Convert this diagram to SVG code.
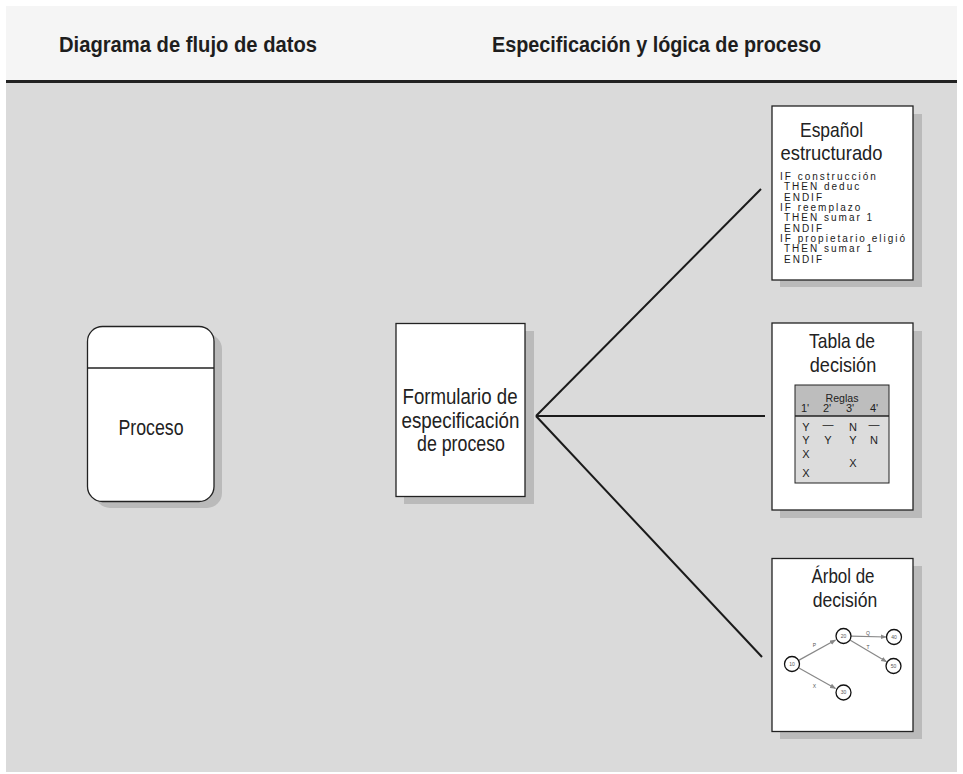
<svg xmlns="http://www.w3.org/2000/svg" width="963" height="774" viewBox="0 0 963 774">
<defs>
<style>
.hdr{font-family:"Liberation Sans",Arial,sans-serif;font-weight:bold;font-size:22px;fill:#1e1e1e}
.lbl{font-family:"Liberation Sans",Arial,sans-serif;font-size:22px;fill:#222;text-anchor:middle}
.ttl{font-family:"Liberation Sans",Arial,sans-serif;font-size:21px;fill:#222;text-anchor:middle}
.code{font-family:"Liberation Sans",Arial,sans-serif;font-size:10px;letter-spacing:2px;fill:#1a1a1a}
.tbl{font-family:"Liberation Sans",Arial,sans-serif;font-size:11px;fill:#222;text-anchor:middle}
.tiny{font-family:"Liberation Sans",Arial,sans-serif;font-size:5px;fill:#555;text-anchor:middle}
.box{fill:#fff;stroke:#222;stroke-width:1.3}
.shadow{fill:#bababa}
.fan{stroke:#1a1a1a;stroke-width:2;fill:none}
.tarrow{stroke:#888;stroke-width:1.2;fill:none;marker-end:url(#ah)}
.tnode{fill:#fff;stroke:#111;stroke-width:1.3}
</style>
<marker id="ah" viewBox="0 0 10 10" refX="9" refY="5" markerWidth="5" markerHeight="5" orient="auto" markerUnits="strokeWidth">
<path d="M0,1 L10,5 L0,9 Z" fill="#888"/>
</marker>
</defs>
<rect x="0" y="0" width="963" height="774" fill="#fff"/>
<rect x="6" y="6" width="951" height="75" fill="#f5f5f5"/>
<rect x="6" y="83" width="951" height="689" fill="#dadada"/>
<rect x="6" y="80" width="951" height="3" fill="#222"/>
<g id="header">
<text class="hdr" x="59" y="52" textLength="258" lengthAdjust="spacingAndGlyphs">Diagrama de flujo de datos</text>
<text class="hdr" x="492" y="52" textLength="329" lengthAdjust="spacingAndGlyphs">Especificación y lógica de proceso</text>
</g>
<g id="connectors">
<line class="fan" x1="536" y1="416" x2="761" y2="189"/>
<line class="fan" x1="536" y1="416" x2="765" y2="416"/>
<line class="fan" x1="536" y1="416" x2="762" y2="657"/>
</g>
<g id="proceso">
<rect class="shadow" x="95" y="334" width="127" height="174" rx="15"/>
<rect class="box" x="87.5" y="326.5" width="126.5" height="175" rx="15"/>
<line x1="87.5" y1="368" x2="214" y2="368" stroke="#222" stroke-width="1.3"/>
<text class="lbl" x="151" y="435" textLength="65" lengthAdjust="spacingAndGlyphs">Proceso</text>
</g>
<g id="formulario">
<rect class="shadow" x="404" y="331" width="130" height="173"/>
<rect class="box" x="396" y="323.5" width="129" height="173"/>
<text class="lbl" x="460" y="404" textLength="115" lengthAdjust="spacingAndGlyphs">Formulario de</text>
<text class="lbl" x="460.5" y="427.5" textLength="118" lengthAdjust="spacingAndGlyphs">especificación</text>
<text class="lbl" x="461" y="451" textLength="88" lengthAdjust="spacingAndGlyphs">de proceso</text>
</g>
<g id="espanol-estructurado">
<rect class="shadow" x="780" y="114" width="142" height="173"/>
<rect class="box" x="772" y="106" width="141" height="174"/>
<text class="ttl" x="831.5" y="136.5" textLength="63" lengthAdjust="spacingAndGlyphs">Español</text>
<text class="ttl" x="831.5" y="160" textLength="102" lengthAdjust="spacingAndGlyphs">estructurado</text>
<text class="code" x="780" y="180">IF construcción</text>
<text class="code" x="784" y="190.3">THEN deduc</text>
<text class="code" x="784" y="200.6">ENDIF</text>
<text class="code" x="780" y="211">IF reemplazo</text>
<text class="code" x="784" y="221.3">THEN sumar 1</text>
<text class="code" x="784" y="231.6">ENDIF</text>
<text class="code" x="780" y="242">IF propietario eligió</text>
<text class="code" x="784" y="252.3">THEN sumar 1</text>
<text class="code" x="784" y="262.6">ENDIF</text>
</g>
<g id="tabla-decision">
<rect class="shadow" x="780" y="331" width="142" height="187"/>
<rect class="box" x="772" y="323" width="141" height="187"/>
<text class="ttl" x="842" y="348" textLength="66" lengthAdjust="spacingAndGlyphs">Tabla de</text>
<text class="ttl" x="843" y="371.5" textLength="66.5" lengthAdjust="spacingAndGlyphs">decisión</text>
<rect x="795" y="385" width="94" height="31" fill="#bdbdbd"/>
<rect x="795" y="416" width="94" height="67" fill="#dcdcdc"/>
<rect x="795" y="385" width="94" height="98" fill="none" stroke="#222" stroke-width="1"/>
<line x1="795" y1="416" x2="889" y2="416" stroke="#222" stroke-width="1.5"/>
<text class="tbl" x="842" y="401.5" font-size="12.5" textLength="33" lengthAdjust="spacingAndGlyphs">Reglas</text>
<text class="tbl" x="805" y="412">1'</text>
<text class="tbl" x="827" y="412">2'</text>
<text class="tbl" x="850" y="412">3'</text>
<text class="tbl" x="874" y="412">4'</text>
<text class="tbl" x="806" y="431">Y</text>
<text class="tbl" x="828" y="431" dy="-3">—</text>
<text class="tbl" x="853" y="431">N</text>
<text class="tbl" x="874" y="431" dy="-3">—</text>
<text class="tbl" x="806" y="443.5">Y</text>
<text class="tbl" x="828" y="443.5">Y</text>
<text class="tbl" x="853" y="443.5">Y</text>
<text class="tbl" x="874" y="443.5">N</text>
<text class="tbl" x="806" y="457.5">X</text>
<text class="tbl" x="853" y="467">X</text>
<text class="tbl" x="806" y="477">X</text>
</g>
<g id="arbol-decision">
<rect class="shadow" x="780" y="566" width="142" height="173"/>
<rect class="box" x="772" y="558.5" width="141" height="173"/>
<text class="ttl" x="843" y="582.5" textLength="63" lengthAdjust="spacingAndGlyphs">Árbol de</text>
<text class="ttl" x="845" y="606.5" textLength="64.5" lengthAdjust="spacingAndGlyphs">decisión</text>
<g id="arbol-connectors">
<line class="tarrow" x1="798.6" y1="660.4" x2="835.5" y2="640"/>
<line class="tarrow" x1="798.5" y1="667.7" x2="835.5" y2="688.4"/>
<line class="tarrow" x1="851" y1="636.2" x2="886" y2="637"/>
<line class="tarrow" x1="849.5" y1="639.8" x2="886.5" y2="661.8"/>
<text class="tiny" x="814.5" y="646.5">P</text>
<text class="tiny" x="814.5" y="687.5">X</text>
<text class="tiny" x="868" y="634.5">Q</text>
<text class="tiny" x="868" y="648.5">T</text>
</g>
<g id="tree-nodes">
<circle class="tnode" cx="792" cy="664" r="7.5"/>
<text class="tiny" x="792" y="665.8" fill="#333">10</text>
<circle class="tnode" cx="843.5" cy="636" r="7.5"/>
<text class="tiny" x="843.5" y="637.8" fill="#333">20</text>
<circle class="tnode" cx="843.5" cy="692.5" r="7.5"/>
<text class="tiny" x="843.5" y="694.3" fill="#333">30</text>
<circle class="tnode" cx="894" cy="637" r="7.5"/>
<text class="tiny" x="894" y="638.8" fill="#333">40</text>
<circle class="tnode" cx="893.5" cy="666" r="7.5"/>
<text class="tiny" x="893.5" y="667.8" fill="#333">50</text>
</g>
</g>
</svg>
